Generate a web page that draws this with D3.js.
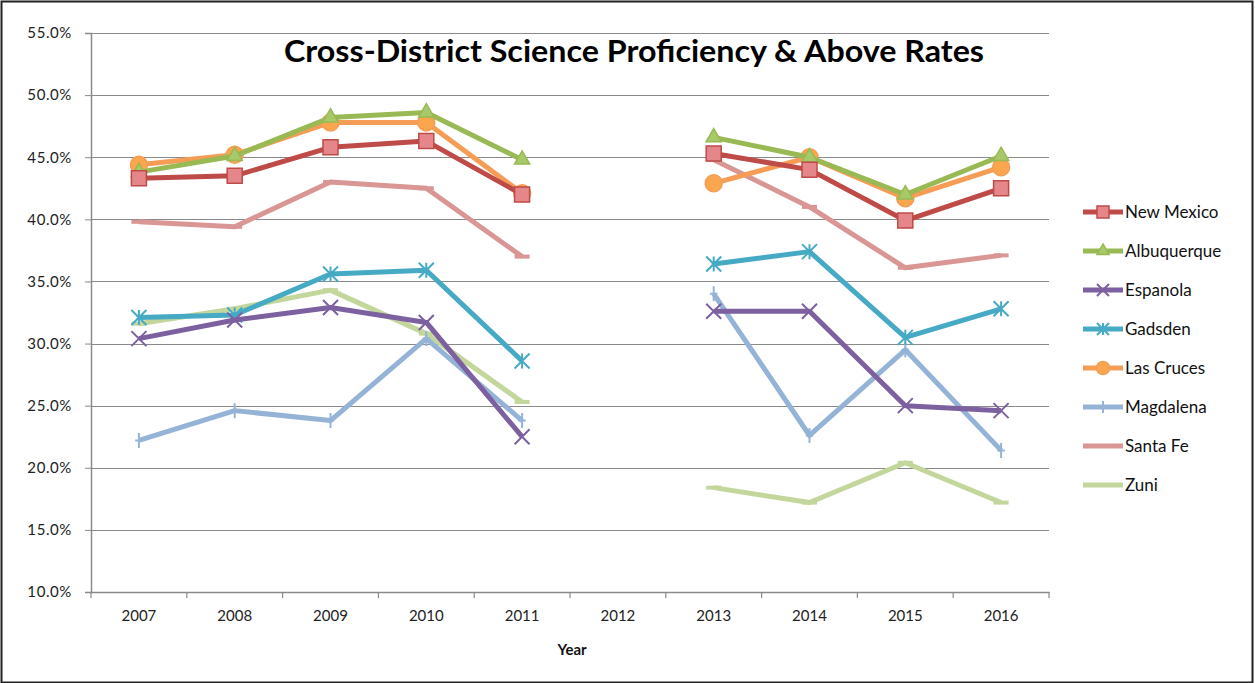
<!DOCTYPE html>
<html>
<head>
<meta charset="utf-8">
<script src="https://cdn.jsdelivr.net/npm/d3@7"></script>
<style>
    body { margin: 0; background: #fff; }
    text { font-family: Lato, "Open Sans", sans-serif; }
</style>
</head>
<body>
<div id="chartContainer"></div>
<script>
var years = ["2007", "2008", "2009", "2010", "2011", "2012", "2013", "2014", "2015", "2016"];
var yTicks = [10, 15, 20, 25, 30, 35, 40, 45, 50, 55];

var newMexico   = [43.3, 43.5, 45.8, 46.3, 42.0, null, 45.3, 44.0, 39.9, 42.5];
var albuquerque = [43.8, 45.1, 48.2, 48.6, 44.8, null, 46.6, 45.0, 42.0, 45.1];
var espanola    = [30.4, 31.9, 32.9, 31.7, 22.5, null, 32.6, 32.6, 25.0, 24.6];
var gadsden     = [32.1, 32.3, 35.6, 35.9, 28.6, null, 36.4, 37.4, 30.5, 32.8];
var lasCruces   = [44.4, 45.2, 47.8, 47.8, 42.1, null, 42.9, 45.0, 41.7, 44.2];
var magdalena   = [22.2, 24.6, 23.8, 30.4, 23.8, null, 34.0, 22.6, 29.5, 21.4];
var santaFe     = [39.8, 39.4, 43.0, 42.5, 37.0, null, 44.8, 41.0, 36.1, 37.1];
var zuni        = [31.6, 32.8, 34.3, 30.8, 25.3, null, 18.4, 17.2, 20.4, 17.2];

var series = [
    { name: "New Mexico",  values: newMexico,   color: "#be4b48", fill: "#e5878a", marker: "square" },
    { name: "Albuquerque", values: albuquerque, color: "#98b954", fill: "#a8c96a", marker: "triangle" },
    { name: "Espanola",    values: espanola,    color: "#7d60a0", fill: "none",    marker: "x" },
    { name: "Gadsden",     values: gadsden,     color: "#46aac5", fill: "none",    marker: "star" },
    { name: "Las Cruces",  values: lasCruces,   color: "#f59d56", fill: "#f9a64f", marker: "circle" },
    { name: "Magdalena",   values: magdalena,   color: "#95b3d7", fill: "none",    marker: "plus" },
    { name: "Santa Fe",    values: santaFe,     color: "#d99694", fill: "none",    marker: "dash" },
    { name: "Zuni",        values: zuni,        color: "#c3d69b", fill: "none",    marker: "dash" }
];

var W = 1255, H = 683;
var margin = { top: 33, left: 91, right: 206, bottom: 91 };

var svg = d3.select("#chartContainer")
    .append("svg")
    .attr("width", W)
    .attr("height", H);

// outer frame
svg.append("rect")
    .attr("x", 1.5).attr("y", 1.5)
    .attr("width", W - 4).attr("height", H - 2)
    .attr("fill", "white")
    .attr("stroke", "#222")
    .attr("stroke-width", 2);

var x = d3.scaleBand()
    .domain(years)
    .range([margin.left, W - margin.right])
    .padding(0);

var y = d3.scaleLinear()
    .domain([10, 55])
    .range([H - margin.bottom, margin.top]);

// gridlines
svg.append("g")
    .selectAll("line")
    .data(yTicks.slice(1))
    .join("line")
    .attr("x1", margin.left)
    .attr("x2", W - margin.right)
    .attr("y1", d => Math.round(y(d)) + 0.5)
    .attr("y2", d => Math.round(y(d)) + 0.5)
    .attr("stroke", "#8a8a8a")
    .attr("stroke-width", 1.2);

// y axis
var yAxis = svg.append("g")
    .attr("transform", `translate(${margin.left},0)`)
    .call(d3.axisLeft(y)
        .tickValues(yTicks)
        .tickSize(6)
        .tickPadding(13)
        .tickFormat(d => d.toFixed(1) + "%"));
yAxis.attr("font-size", null);
yAxis.select(".domain").attr("stroke", "#8a8a8a").attr("stroke-width", 1.5);
yAxis.selectAll(".tick line").attr("stroke", "#8a8a8a");
yAxis.selectAll(".tick text")
    .attr("fill", "#222")
    .attr("font-size", 15)
    .style("letter-spacing", "0.6px")
    .style("font-family", "Lato, sans-serif");

// x axis
var xAxis = svg.append("g")
    .attr("transform", `translate(0,${H - margin.bottom})`)
    .call(d3.axisBottom(x).tickSize(0).tickPadding(18));
xAxis.attr("font-size", null);
xAxis.select(".domain").attr("stroke", "#8a8a8a").attr("stroke-width", 1.5);
xAxis.selectAll(".tick text")
    .attr("fill", "#222")
    .attr("font-size", 15)
    .style("font-family", "Lato, sans-serif");

// category separator ticks
svg.append("g")
    .selectAll("line")
    .data(years.concat(["end"]))
    .join("line")
    .attr("x1", (d, i) => margin.left + i * x.bandwidth())
    .attr("x2", (d, i) => margin.left + i * x.bandwidth())
    .attr("y1", H - margin.bottom)
    .attr("y2", H - margin.bottom + 6)
    .attr("stroke", "#8a8a8a")
    .attr("stroke-width", 1.2);

// axis title
svg.append("text")
    .attr("x", x("2012") - x.bandwidth() / 2 + 50)
    .attr("y", 655)
    .attr("text-anchor", "middle")
    .style("font-size", "15px")
    .style("font-weight", "bold")
    .attr("fill", "#111")
    .text("Year");

// chart title
svg.append("text")
    .attr("x", 634)
    .attr("y", 62)
    .attr("text-anchor", "middle")
    .attr("textLength", 700)
    .attr("lengthAdjust", "spacingAndGlyphs")
    .style("font-size", "30px")
    .style("font-weight", "bold")
    .attr("fill", "#000")
    .text("Cross-District Science Proficiency & Above Rates");

function markerPath(type, s) {
    var h = s / 2;
    if (type == "square") return d3.symbol(d3.symbolSquare, s * s)();
    if (type == "circle") return d3.symbol(d3.symbolCircle, Math.PI * h * h)();
    if (type == "triangle") return d3.symbol(d3.symbolTriangle, s * s * 0.45)();
    if (type == "x") return `M${-h},${-h}L${h},${h}M${-h},${h}L${h},${-h}`;
    if (type == "star") return `M${-h},${-h}L${h},${h}M${-h},${h}L${h},${-h}M0,${-h}L0,${h}`;
    if (type == "plus") return `M0,${-h}L0,${h}M${-h / 2},0L${h / 2},0`;
    if (type == "dash") return `M${-h},0L${h},0`;
    return "";
}

var line = d3.line()
    .defined(d => d != null)
    .x((d, i) => x(years[i]) + x.bandwidth() / 2)
    .y(d => y(d));

function drawMarker(g, s, cx, cy, size) {
    var filled = s.fill != "none";
    g.append("path")
        .attr("d", markerPath(s.marker, size))
        .attr("transform", `translate(${cx},${cy})`)
        .attr("fill", filled ? s.fill : "none")
        .attr("stroke", s.color)
        .attr("stroke-width", filled ? 1.5 : (s.marker == "dash" ? 4 : 2));
}

// draw in reverse so New Mexico sits on top as in the original
series.slice().reverse().forEach(function (s) {
    var g = svg.append("g");
    g.append("path")
        .datum(s.values)
        .attr("fill", "none")
        .attr("stroke", s.color)
        .attr("stroke-width", 5)
        .attr("stroke-linejoin", "round")
        .attr("d", line);

    s.values.forEach(function (v, i) {
        if (v == null) return;
        var size = s.marker == "square" ? 15 : (s.marker == "circle" ? 17 : 15);
        drawMarker(g, s, x(years[i]) + x.bandwidth() / 2, y(v), size);
    });
});

// legend
var legend = svg.append("g");
series.forEach(function (s, i) {
    var ly = 212 + i * 39;
    var g = legend.append("g");
    g.append("line")
        .attr("x1", 1083).attr("x2", 1123)
        .attr("y1", ly).attr("y2", ly)
        .attr("stroke", s.color)
        .attr("stroke-width", 5);
    drawMarker(g, s, 1103, ly, s.marker == "circle" ? 13 : 12);
    g.append("text")
        .attr("x", 1125)
        .attr("y", ly + 6)
        .style("font-size", "17px")
        .attr("fill", "#111")
        .text(s.name);
});
</script>
</body>
</html>
